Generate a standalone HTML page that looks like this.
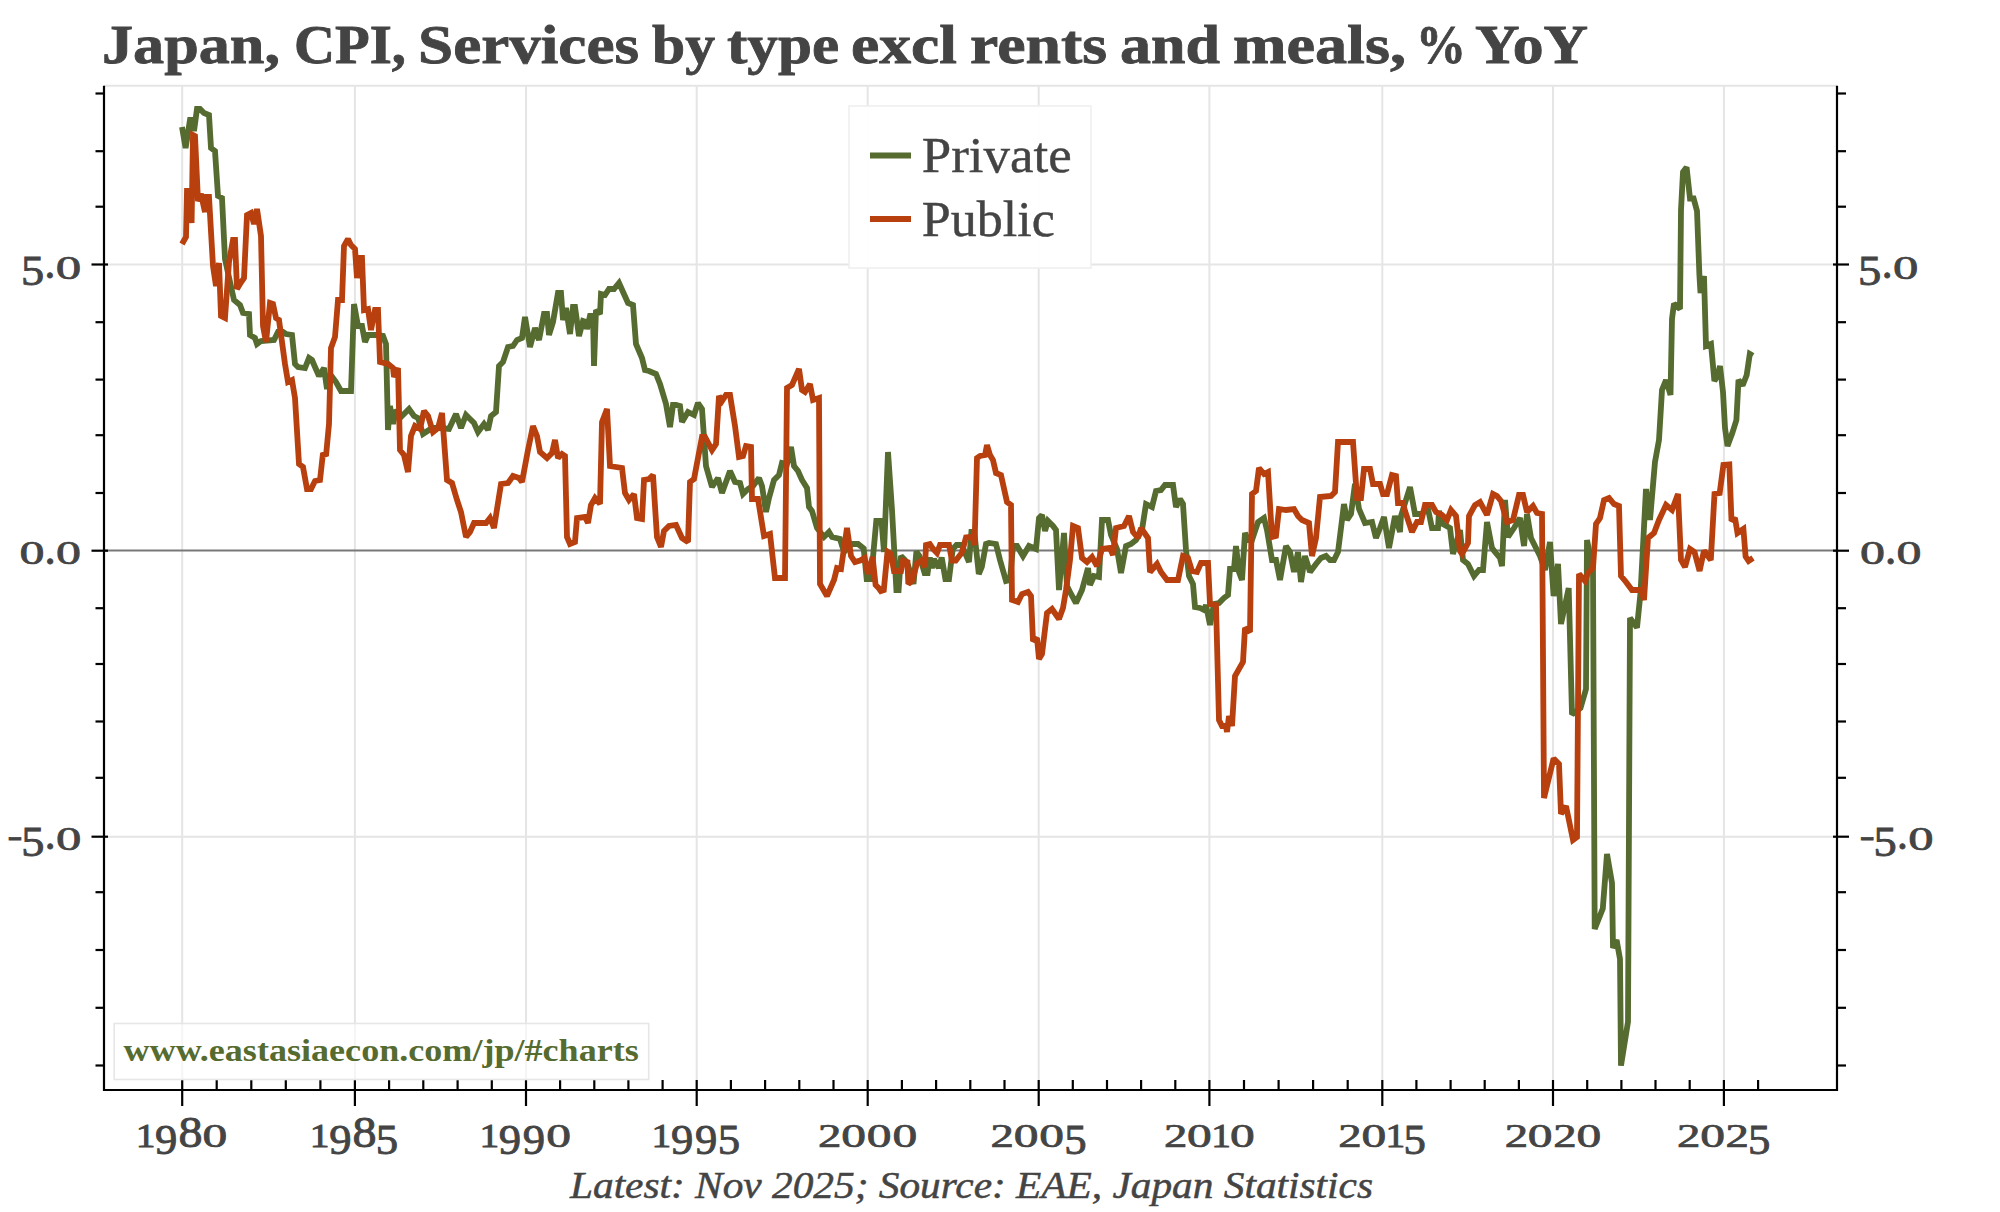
<!DOCTYPE html><html><head><meta charset="utf-8"><style>html,body{margin:0;padding:0;background:#fff;width:2000px;height:1212px;overflow:hidden}svg{display:block}text{font-family:"Liberation Serif",serif}</style></head><body>
<svg width="2000" height="1212" viewBox="0 0 2000 1212">
<rect width="2000" height="1212" fill="#fff"/>
<g stroke="#e5e5e5" stroke-width="2" fill="none">
<line x1="182.2" y1="85.8" x2="182.2" y2="1090"/>
<line x1="354.9" y1="85.8" x2="354.9" y2="1090"/>
<line x1="526.0" y1="85.8" x2="526.0" y2="1090"/>
<line x1="696.7" y1="85.8" x2="696.7" y2="1090"/>
<line x1="867.7" y1="85.8" x2="867.7" y2="1090"/>
<line x1="1038.7" y1="85.8" x2="1038.7" y2="1090"/>
<line x1="1209.4" y1="85.8" x2="1209.4" y2="1090"/>
<line x1="1382.3" y1="85.8" x2="1382.3" y2="1090"/>
<line x1="1553.0" y1="85.8" x2="1553.0" y2="1090"/>
<line x1="1723.9" y1="85.8" x2="1723.9" y2="1090"/>
<line x1="104" y1="264.5" x2="1837" y2="264.5"/>
<line x1="104" y1="836.7" x2="1837" y2="836.7"/>
<line x1="104" y1="85.8" x2="1837" y2="85.8"/>
</g>
<line x1="104" y1="550.4" x2="1837" y2="550.4" stroke="#787878" stroke-width="2"/>
<polyline points="182.0,127.0 185.6,148.0 190.0,120.0 193.0,120.0 194.0,131.0 197.0,109.0 200.0,109.0 204.0,113.0 209.0,115.0 211.0,148.0 215.0,151.0 218.0,196.0 222.0,198.0 225.0,259.0 234.0,300.0 240.0,305.0 243.0,313.0 249.0,314.0 250.0,335.0 255.0,338.0 257.0,344.0 261.0,341.0 274.0,340.0 278.0,332.0 283.0,332.0 286.0,334.0 292.0,335.0 295.0,364.0 298.0,367.0 305.0,368.0 309.0,358.0 312.0,360.0 315.0,367.0 319.0,376.0 324.0,368.0 327.0,389.0 330.0,374.0 336.0,382.0 341.0,391.0 351.0,391.0 354.0,304.0 358.0,326.0 362.0,326.0 365.0,342.0 368.0,335.0 376.0,335.0 383.0,336.0 386.0,344.0 388.0,430.0 390.0,406.0 393.0,424.0 396.0,410.0 402.0,416.0 409.0,409.0 414.0,416.0 418.0,418.0 423.0,434.0 432.0,428.0 439.0,428.0 449.0,429.0 456.0,414.0 461.0,428.0 466.0,415.0 470.0,419.0 474.0,423.0 478.0,432.0 484.0,424.0 488.0,430.0 491.0,416.0 496.0,412.0 499.0,366.0 503.0,362.0 508.0,347.0 513.0,346.0 517.0,340.0 522.0,338.0 525.0,317.0 530.0,347.0 535.0,328.0 539.0,340.0 544.0,314.0 547.0,314.0 549.0,335.0 553.0,322.0 558.0,293.0 561.0,293.0 563.0,320.0 566.0,308.0 570.0,334.0 573.0,307.0 575.0,307.0 579.0,336.0 583.0,321.0 586.0,322.0 587.0,329.0 590.0,316.0 593.0,316.0 594.0,366.0 596.0,310.0 600.0,314.0 601.0,294.0 605.0,295.0 609.0,289.0 614.0,289.0 619.0,283.0 628.0,303.0 633.0,305.0 636.0,344.0 642.0,358.0 645.0,370.0 649.0,371.0 656.0,374.0 660.0,384.0 666.0,404.0 670.0,427.0 673.0,405.0 676.0,405.0 680.0,406.0 682.0,422.0 688.0,412.0 694.0,415.0 698.0,403.0 702.0,409.0 706.0,466.0 712.0,487.0 718.0,478.0 722.0,493.0 730.0,471.0 735.0,482.0 740.0,483.0 743.0,494.0 748.0,489.0 753.0,486.0 759.0,478.0 762.0,486.0 766.0,512.0 769.0,498.0 774.0,480.0 779.0,475.0 782.0,463.0 787.0,464.0 791.0,447.0 794.0,466.0 798.0,471.0 802.0,480.0 807.0,488.0 809.0,507.0 812.0,511.0 817.0,528.0 824.0,537.0 829.0,532.0 832.0,537.0 840.0,539.0 844.0,552.0 852.0,544.0 858.0,544.0 863.7,548.6 866.7,579.0 871.0,579.0 876.3,521.0 881.5,521.0 884.0,552.0 888.0,452.0 892.0,510.0 896.4,590.0 898.6,590.0 901.0,556.0 905.0,560.0 908.0,565.0 913.5,584.0 916.4,551.6 919.4,556.0 924.6,573.0 927.6,573.0 929.8,557.5 932.0,568.0 934.0,559.0 938.7,568.0 941.7,557.5 945.4,579.0 949.0,579.0 952.8,549.0 956.5,545.0 961.7,545.0 969.0,562.0 971.4,532.0 974.3,532.0 978.8,574.0 981.8,567.0 986.0,544.0 989.0,543.0 996.0,544.0 1000.0,560.0 1006.0,581.0 1010.0,580.0 1013.0,546.0 1017.0,546.0 1023.0,556.0 1029.0,546.0 1036.0,549.0 1039.0,518.0 1042.0,515.0 1045.0,531.0 1048.0,521.0 1053.0,526.0 1056.0,530.0 1059.0,590.0 1064.0,533.0 1067.0,586.0 1071.0,594.0 1076.0,603.0 1082.0,590.0 1088.0,568.0 1090.0,585.0 1094.0,576.0 1099.0,577.0 1102.0,520.0 1108.0,520.0 1111.0,535.0 1117.0,549.0 1121.0,573.0 1126.0,546.0 1131.0,544.0 1136.0,540.0 1142.0,530.0 1146.0,504.0 1152.0,507.0 1156.0,491.0 1161.0,490.0 1165.0,485.0 1173.0,485.0 1176.0,507.0 1180.0,499.0 1183.0,504.0 1186.0,550.0 1189.0,576.0 1193.0,584.0 1195.0,607.0 1200.0,608.0 1204.0,610.0 1206.0,605.0 1210.0,625.0 1214.0,604.0 1219.0,603.0 1224.0,598.0 1228.0,595.0 1230.0,569.0 1234.0,569.0 1236.0,546.0 1239.0,572.0 1242.0,580.0 1245.0,533.0 1248.0,540.0 1252.0,540.0 1258.0,522.0 1264.0,518.0 1267.0,530.0 1272.0,560.0 1276.0,560.0 1280.0,580.0 1286.0,546.0 1290.0,552.0 1294.0,572.0 1298.0,552.0 1301.0,582.0 1305.0,556.0 1310.0,572.0 1316.0,564.0 1321.0,558.0 1326.0,556.0 1330.0,560.0 1334.0,560.0 1338.0,552.0 1344.0,504.0 1347.0,520.0 1351.0,514.0 1355.0,484.0 1359.0,509.0 1365.0,523.0 1372.0,522.0 1376.0,538.0 1380.0,528.0 1384.0,517.0 1389.0,548.0 1395.0,516.0 1400.0,532.0 1401.0,516.0 1410.0,487.0 1415.0,514.0 1421.0,514.0 1428.0,509.0 1432.0,528.0 1438.0,528.0 1439.0,511.0 1443.0,524.0 1450.0,528.0 1453.0,554.0 1460.0,530.0 1463.0,560.0 1468.0,564.0 1474.0,576.0 1479.0,570.0 1483.0,570.0 1487.0,522.0 1492.0,548.0 1495.0,552.0 1500.0,558.0 1502.0,566.0 1505.0,500.0 1508.0,537.0 1514.0,528.0 1520.0,518.0 1524.0,546.0 1527.0,514.0 1531.0,538.0 1538.0,552.0 1540.0,556.0 1545.0,570.0 1550.0,542.0 1553.6,596.0 1558.0,564.0 1561.0,624.0 1568.7,588.0 1572.0,714.5 1580.5,708.0 1586.0,689.0 1587.0,540.0 1593.0,570.0 1594.7,929.0 1602.8,908.5 1607.0,854.0 1612.0,883.0 1613.0,948.0 1616.6,940.0 1620.0,959.0 1621.0,1065.6 1628.0,1021.7 1630.0,618.0 1637.0,627.6 1640.6,592.0 1646.0,489.0 1650.0,520.0 1655.0,462.0 1659.0,440.0 1662.0,390.0 1666.0,380.0 1670.5,395.0 1672.0,319.0 1674.0,303.6 1680.0,309.0 1681.0,210.0 1683.0,172.0 1686.6,167.3 1690.0,198.5 1693.6,198.5 1697.0,211.0 1699.4,274.8 1700.5,293.0 1704.0,276.0 1706.0,346.0 1711.0,344.0 1714.4,381.0 1718.0,375.0 1720.0,366.0 1723.0,392.0 1725.0,428.0 1727.5,446.0 1732.3,433.0 1736.4,420.0 1738.5,380.0 1742.6,385.5 1746.7,375.0 1749.8,354.0 1752.9,355.8" fill="none" stroke="#556b2f" stroke-width="5.8" stroke-linejoin="miter" stroke-miterlimit="2"/>
<polyline points="182.0,244.0 186.0,237.0 187.0,191.0 190.0,191.0 191.6,223.0 193.0,135.0 195.0,136.0 198.0,201.0 201.0,194.0 205.0,212.0 206.0,197.0 209.0,197.0 213.0,266.0 216.0,286.0 219.0,263.0 221.0,316.0 225.0,318.0 229.0,262.0 233.0,240.0 235.0,240.0 237.0,289.0 240.0,284.0 244.0,278.0 247.0,215.0 251.0,213.0 254.0,224.0 257.0,209.0 261.0,236.0 263.0,326.0 266.0,342.0 270.0,303.0 273.0,304.0 276.0,318.0 279.0,320.0 285.0,364.0 288.0,382.0 292.0,380.0 295.0,398.0 299.0,464.0 303.0,467.0 307.0,489.0 311.0,489.0 315.0,481.0 320.0,480.0 323.0,453.0 326.0,456.0 329.0,424.0 331.0,348.0 335.0,337.0 338.0,300.0 342.0,300.0 344.0,246.0 348.0,239.0 351.0,245.0 355.0,249.0 357.0,278.0 360.0,258.0 362.0,258.0 364.0,310.0 368.0,309.0 371.0,330.0 375.0,310.0 378.0,310.0 380.0,362.0 388.0,364.0 393.0,368.0 394.0,377.0 398.0,368.0 400.0,450.0 404.0,455.0 408.0,472.0 411.0,436.0 415.0,426.0 420.0,429.0 424.0,411.0 428.0,416.0 433.0,432.0 438.0,428.0 442.0,413.0 447.0,480.0 452.0,483.0 457.0,500.0 461.0,512.0 466.0,537.0 470.0,532.0 474.0,523.0 486.0,523.0 490.0,518.0 494.0,528.0 501.0,484.0 508.0,483.0 513.0,476.0 519.0,478.0 522.0,482.0 528.0,450.0 533.0,426.0 537.0,436.0 540.0,452.0 547.0,458.0 552.0,453.0 555.0,440.0 558.0,458.0 562.0,454.0 565.0,456.0 567.0,537.0 570.0,544.0 575.0,542.0 577.0,518.0 585.0,517.0 588.0,523.0 591.0,505.0 595.0,498.0 600.0,504.0 602.0,422.0 607.0,409.0 610.0,466.0 622.0,468.0 625.0,493.0 629.0,500.0 634.0,494.0 637.0,518.0 642.0,519.0 644.0,480.0 649.0,479.0 653.0,475.0 657.0,537.0 661.0,547.0 664.0,531.0 669.0,526.0 676.0,525.0 682.0,538.0 688.0,542.0 690.0,482.0 694.0,479.0 702.0,437.0 705.0,437.0 712.0,450.0 716.0,444.0 719.0,396.0 722.0,401.0 726.0,395.0 730.0,395.0 735.0,426.0 739.0,457.0 743.0,456.0 746.0,446.0 751.0,447.0 752.0,499.0 758.0,499.0 764.0,536.0 770.0,534.0 775.0,578.0 785.0,578.0 787.0,388.0 792.0,385.0 799.0,369.0 802.0,390.0 805.0,392.0 810.0,384.0 813.0,400.0 819.0,398.0 820.0,584.0 827.0,596.0 834.0,580.0 837.0,568.0 841.0,569.0 847.0,528.0 851.0,556.0 855.0,562.0 860.0,560.5 864.5,558.0 868.0,574.0 872.6,557.0 875.6,585.0 878.6,588.0 880.8,591.0 883.8,590.0 887.5,551.6 891.0,554.0 894.0,571.0 901.0,571.0 903.0,560.5 907.5,562.0 908.3,584.0 912.0,581.0 917.0,563.5 921.6,560.5 925.0,567.0 926.0,545.0 929.8,544.0 932.8,548.6 937.0,553.0 940.0,545.0 949.0,545.0 952.0,560.5 955.8,560.5 958.7,556.8 961.7,553.0 966.0,537.5 972.5,536.7 974.5,545.0 977.0,458.0 980.0,456.0 985.0,455.0 987.0,445.0 990.0,455.0 993.0,460.0 996.0,473.0 1001.0,475.0 1007.0,502.0 1011.0,505.0 1012.0,600.0 1018.0,602.0 1022.0,594.0 1028.0,592.0 1031.0,596.0 1033.0,641.0 1037.0,638.0 1039.0,659.0 1042.0,654.0 1047.0,613.0 1052.0,609.0 1059.0,619.0 1063.0,608.0 1066.0,590.0 1070.0,560.0 1073.0,526.0 1078.0,528.0 1082.0,558.0 1087.0,562.0 1092.0,557.0 1097.0,566.0 1102.0,549.0 1110.0,548.0 1113.0,555.0 1116.0,528.0 1124.0,526.0 1129.0,516.0 1133.0,532.0 1138.0,538.0 1141.0,528.0 1148.0,538.0 1150.0,572.0 1157.0,564.0 1161.0,572.0 1167.0,580.0 1178.0,580.0 1183.0,556.0 1188.0,558.0 1192.0,571.0 1197.0,572.0 1201.0,563.0 1208.0,563.0 1210.0,604.0 1216.0,605.0 1219.0,720.0 1222.0,726.0 1226.0,726.0 1227.0,732.0 1229.0,716.0 1232.0,726.0 1235.0,676.0 1243.0,662.0 1245.0,628.0 1250.0,632.0 1252.0,494.0 1256.0,491.0 1259.0,468.0 1264.0,474.0 1268.0,472.0 1272.0,537.0 1276.0,536.0 1279.0,509.0 1286.0,510.0 1294.0,509.0 1298.0,516.0 1302.0,520.0 1309.0,523.0 1312.0,556.0 1316.0,538.0 1320.0,497.0 1331.0,496.0 1335.0,492.0 1338.0,442.0 1350.0,442.0 1353.0,442.0 1357.0,498.0 1361.0,498.0 1364.0,469.0 1370.0,469.0 1373.0,484.0 1380.0,484.0 1383.0,494.0 1387.0,494.0 1392.0,475.0 1396.0,476.0 1398.0,503.0 1403.0,503.0 1405.0,511.0 1412.0,532.0 1417.0,522.0 1421.0,522.0 1425.0,505.0 1432.0,505.0 1436.0,512.0 1442.0,515.0 1447.0,520.0 1451.0,510.0 1456.0,516.0 1460.0,551.0 1462.0,554.0 1468.0,543.0 1469.0,516.0 1475.0,505.0 1480.0,502.0 1487.0,515.0 1493.0,494.0 1497.0,496.0 1501.0,501.0 1507.0,522.0 1513.0,520.0 1519.0,495.0 1523.0,495.0 1527.0,512.0 1533.0,506.0 1537.0,513.0 1542.0,514.0 1544.0,798.0 1553.6,758.5 1559.0,764.0 1561.0,814.0 1566.0,806.0 1573.0,840.0 1577.0,837.0 1579.0,574.0 1585.0,581.0 1588.0,573.0 1593.0,568.0 1596.0,524.0 1600.0,518.0 1604.0,500.0 1609.0,498.0 1614.0,504.0 1619.0,506.0 1621.0,576.0 1626.0,582.0 1632.0,590.0 1641.0,590.0 1644.0,600.0 1648.0,538.0 1654.0,533.0 1659.0,520.0 1666.0,505.0 1672.0,510.0 1678.0,494.0 1681.0,560.0 1685.0,567.0 1690.0,549.0 1694.5,552.0 1699.6,571.0 1704.0,550.6 1710.8,560.0 1714.5,494.0 1719.7,493.0 1723.4,465.0 1729.3,464.5 1731.5,521.0 1735.0,518.0 1737.5,533.0 1743.4,529.0 1745.6,556.5 1748.6,561.0 1753.0,558.0" fill="none" stroke="#b7400e" stroke-width="5.8" stroke-linejoin="miter" stroke-miterlimit="2"/>
<g stroke="#000" stroke-width="2.2" fill="none" stroke-linecap="butt">
<polyline points="104,85.8 104,1090 1837,1090 1837,85.8"/>
<line x1="182.2" y1="1080" x2="182.2" y2="1106"/>
<line x1="216.7" y1="1080" x2="216.7" y2="1090"/>
<line x1="251.3" y1="1080" x2="251.3" y2="1090"/>
<line x1="285.8" y1="1080" x2="285.8" y2="1090"/>
<line x1="320.4" y1="1080" x2="320.4" y2="1090"/>
<line x1="354.9" y1="1080" x2="354.9" y2="1106"/>
<line x1="389.1" y1="1080" x2="389.1" y2="1090"/>
<line x1="423.3" y1="1080" x2="423.3" y2="1090"/>
<line x1="457.6" y1="1080" x2="457.6" y2="1090"/>
<line x1="491.8" y1="1080" x2="491.8" y2="1090"/>
<line x1="526.0" y1="1080" x2="526.0" y2="1106"/>
<line x1="560.1" y1="1080" x2="560.1" y2="1090"/>
<line x1="594.3" y1="1080" x2="594.3" y2="1090"/>
<line x1="628.4" y1="1080" x2="628.4" y2="1090"/>
<line x1="662.6" y1="1080" x2="662.6" y2="1090"/>
<line x1="696.7" y1="1080" x2="696.7" y2="1106"/>
<line x1="730.9" y1="1080" x2="730.9" y2="1090"/>
<line x1="765.1" y1="1080" x2="765.1" y2="1090"/>
<line x1="799.3" y1="1080" x2="799.3" y2="1090"/>
<line x1="833.5" y1="1080" x2="833.5" y2="1090"/>
<line x1="867.7" y1="1080" x2="867.7" y2="1106"/>
<line x1="901.9" y1="1080" x2="901.9" y2="1090"/>
<line x1="936.1" y1="1080" x2="936.1" y2="1090"/>
<line x1="970.3" y1="1080" x2="970.3" y2="1090"/>
<line x1="1004.5" y1="1080" x2="1004.5" y2="1090"/>
<line x1="1038.7" y1="1080" x2="1038.7" y2="1106"/>
<line x1="1072.8" y1="1080" x2="1072.8" y2="1090"/>
<line x1="1107.0" y1="1080" x2="1107.0" y2="1090"/>
<line x1="1141.1" y1="1080" x2="1141.1" y2="1090"/>
<line x1="1175.3" y1="1080" x2="1175.3" y2="1090"/>
<line x1="1209.4" y1="1080" x2="1209.4" y2="1106"/>
<line x1="1244.0" y1="1080" x2="1244.0" y2="1090"/>
<line x1="1278.6" y1="1080" x2="1278.6" y2="1090"/>
<line x1="1313.1" y1="1080" x2="1313.1" y2="1090"/>
<line x1="1347.7" y1="1080" x2="1347.7" y2="1090"/>
<line x1="1382.3" y1="1080" x2="1382.3" y2="1106"/>
<line x1="1416.4" y1="1080" x2="1416.4" y2="1090"/>
<line x1="1450.6" y1="1080" x2="1450.6" y2="1090"/>
<line x1="1484.7" y1="1080" x2="1484.7" y2="1090"/>
<line x1="1518.9" y1="1080" x2="1518.9" y2="1090"/>
<line x1="1553.0" y1="1080" x2="1553.0" y2="1106"/>
<line x1="1587.2" y1="1080" x2="1587.2" y2="1090"/>
<line x1="1621.4" y1="1080" x2="1621.4" y2="1090"/>
<line x1="1655.5" y1="1080" x2="1655.5" y2="1090"/>
<line x1="1689.7" y1="1080" x2="1689.7" y2="1090"/>
<line x1="1723.9" y1="1080" x2="1723.9" y2="1106"/>
<line x1="1758.1" y1="1080" x2="1758.1" y2="1090"/>
<line x1="95.5" y1="1065.5" x2="104" y2="1065.5"/>
<line x1="1837" y1="1065.5" x2="1846" y2="1065.5"/>
<line x1="95.5" y1="1007.8" x2="104" y2="1007.8"/>
<line x1="1837" y1="1007.8" x2="1846" y2="1007.8"/>
<line x1="95.5" y1="950.0" x2="104" y2="950.0"/>
<line x1="1837" y1="950.0" x2="1846" y2="950.0"/>
<line x1="95.5" y1="892.2" x2="104" y2="892.2"/>
<line x1="1837" y1="892.2" x2="1846" y2="892.2"/>
<line x1="91.5" y1="836.7" x2="108" y2="836.7"/>
<line x1="1833" y1="836.7" x2="1849" y2="836.7"/>
<line x1="95.5" y1="777.8" x2="104" y2="777.8"/>
<line x1="1837" y1="777.8" x2="1846" y2="777.8"/>
<line x1="95.5" y1="721.5" x2="104" y2="721.5"/>
<line x1="1837" y1="721.5" x2="1846" y2="721.5"/>
<line x1="95.5" y1="664.0" x2="104" y2="664.0"/>
<line x1="1837" y1="664.0" x2="1846" y2="664.0"/>
<line x1="95.5" y1="608.2" x2="104" y2="608.2"/>
<line x1="1837" y1="608.2" x2="1846" y2="608.2"/>
<line x1="91.5" y1="550.7" x2="108" y2="550.7"/>
<line x1="1833" y1="550.7" x2="1849" y2="550.7"/>
<line x1="95.5" y1="493.0" x2="104" y2="493.0"/>
<line x1="1837" y1="493.0" x2="1846" y2="493.0"/>
<line x1="95.5" y1="435.2" x2="104" y2="435.2"/>
<line x1="1837" y1="435.2" x2="1846" y2="435.2"/>
<line x1="95.5" y1="379.6" x2="104" y2="379.6"/>
<line x1="1837" y1="379.6" x2="1846" y2="379.6"/>
<line x1="95.5" y1="322.2" x2="104" y2="322.2"/>
<line x1="1837" y1="322.2" x2="1846" y2="322.2"/>
<line x1="91.5" y1="264.5" x2="108" y2="264.5"/>
<line x1="1833" y1="264.5" x2="1849" y2="264.5"/>
<line x1="95.5" y1="206.7" x2="104" y2="206.7"/>
<line x1="1837" y1="206.7" x2="1846" y2="206.7"/>
<line x1="95.5" y1="151.2" x2="104" y2="151.2"/>
<line x1="1837" y1="151.2" x2="1846" y2="151.2"/>
<line x1="95.5" y1="93.5" x2="104" y2="93.5"/>
<line x1="1837" y1="93.5" x2="1846" y2="93.5"/>
</g>
<rect x="849" y="106" width="242" height="162" fill="#fff" fill-opacity="0.95" stroke="#efefef" stroke-width="1.6"/>
<line x1="870" y1="155.5" x2="911" y2="155.5" stroke="#556b2f" stroke-width="6"/>
<line x1="870" y1="219" x2="911" y2="219" stroke="#b7400e" stroke-width="6"/>
<rect x="114.2" y="1023.5" width="534.5" height="56" fill="#fff" fill-opacity="0.6" stroke="#e6e6e6" stroke-width="1.6"/>
<text x="570.00" y="1198.0" font-size="38" fill="#444444" font-style="italic" stroke="#444" stroke-width="0.5" textLength="803.00" lengthAdjust="spacingAndGlyphs">Latest: Nov 2025; Source: EAE, Japan Statistics</text>
<text x="102.00" y="62.7" font-size="54" fill="#444444" font-weight="bold" stroke="#444" stroke-width="0.8" textLength="178.00" lengthAdjust="spacingAndGlyphs">Japan,</text>
<text x="294.00" y="62.7" font-size="54" fill="#444444" font-weight="bold" stroke="#444" stroke-width="0.8" textLength="112.00" lengthAdjust="spacingAndGlyphs">CPI,</text>
<text x="418.00" y="62.7" font-size="54" fill="#444444" font-weight="bold" stroke="#444" stroke-width="0.8" textLength="221.00" lengthAdjust="spacingAndGlyphs">Services</text>
<text x="652.00" y="62.7" font-size="54" fill="#444444" font-weight="bold" stroke="#444" stroke-width="0.8" textLength="63.00" lengthAdjust="spacingAndGlyphs">by</text>
<text x="727.00" y="62.7" font-size="54" fill="#444444" font-weight="bold" stroke="#444" stroke-width="0.8" textLength="112.00" lengthAdjust="spacingAndGlyphs">type</text>
<text x="851.00" y="62.7" font-size="54" fill="#444444" font-weight="bold" stroke="#444" stroke-width="0.8" textLength="106.00" lengthAdjust="spacingAndGlyphs">excl</text>
<text x="970.00" y="62.7" font-size="54" fill="#444444" font-weight="bold" stroke="#444" stroke-width="0.8" textLength="137.00" lengthAdjust="spacingAndGlyphs">rents</text>
<text x="1120.00" y="62.7" font-size="54" fill="#444444" font-weight="bold" stroke="#444" stroke-width="0.8" textLength="100.00" lengthAdjust="spacingAndGlyphs">and</text>
<text x="1233.00" y="62.7" font-size="54" fill="#444444" font-weight="bold" stroke="#444" stroke-width="0.8" textLength="173.00" lengthAdjust="spacingAndGlyphs">meals,</text>
<text x="1416.00" y="62.7" font-size="54" fill="#444444" font-weight="bold" stroke="#444" stroke-width="0.8" textLength="50.00" lengthAdjust="spacingAndGlyphs">%</text>
<text x="1475.00" y="62.7" font-size="54" fill="#444444" font-weight="bold" stroke="#444" stroke-width="0.8" textLength="113.00" lengthAdjust="spacingAndGlyphs">YoY</text>
<text x="921.70" y="171.5" font-size="50" fill="#444444" stroke="#444" stroke-width="0.4" textLength="150.00" lengthAdjust="spacingAndGlyphs">Private</text>
<text x="921.70" y="235.9" font-size="50" fill="#444444" stroke="#444" stroke-width="0.4" textLength="133.10" lengthAdjust="spacingAndGlyphs">Public</text>
<text x="123.60" y="1060.9" font-size="31" fill="#556b2f" font-weight="bold" textLength="515.20" lengthAdjust="spacingAndGlyphs">www.eastasiaecon.com/jp/#charts</text>
<text transform="matrix(0.3943 0 0 0.3389 135.65 1147.35)" font-size="100" fill="#444444" stroke="#444444" stroke-width="0.9" vector-effect="non-scaling-stroke" >1</text>
<text transform="matrix(0.4465 0 0 0.4284 155.06 1153.67)" font-size="100" fill="#444444" stroke="#444444" stroke-width="0.9" vector-effect="non-scaling-stroke" >9</text>
<text transform="matrix(0.4810 0 0 0.4326 178.48 1146.92)" font-size="100" fill="#444444" stroke="#444444" stroke-width="0.9" vector-effect="non-scaling-stroke" >8</text>
<text transform="matrix(0.4952 0 0 0.3289 202.42 1147.02)" font-size="100" fill="#444444" stroke="#444444" stroke-width="0.9" vector-effect="non-scaling-stroke" >0</text>
<text transform="matrix(0.3943 0 0 0.3389 309.78 1147.35)" font-size="100" fill="#444444" stroke="#444444" stroke-width="0.9" vector-effect="non-scaling-stroke" >1</text>
<text transform="matrix(0.4465 0 0 0.4284 329.19 1153.67)" font-size="100" fill="#444444" stroke="#444444" stroke-width="0.9" vector-effect="non-scaling-stroke" >9</text>
<text transform="matrix(0.4810 0 0 0.4326 352.60 1146.92)" font-size="100" fill="#444444" stroke="#444444" stroke-width="0.9" vector-effect="non-scaling-stroke" >8</text>
<text transform="matrix(0.4488 0 0 0.4316 375.83 1153.67)" font-size="100" fill="#444444" stroke="#444444" stroke-width="0.9" vector-effect="non-scaling-stroke" >5</text>
<text transform="matrix(0.3943 0 0 0.3389 479.45 1147.35)" font-size="100" fill="#444444" stroke="#444444" stroke-width="0.9" vector-effect="non-scaling-stroke" >1</text>
<text transform="matrix(0.4465 0 0 0.4284 498.86 1153.67)" font-size="100" fill="#444444" stroke="#444444" stroke-width="0.9" vector-effect="non-scaling-stroke" >9</text>
<text transform="matrix(0.4465 0 0 0.4284 522.86 1153.67)" font-size="100" fill="#444444" stroke="#444444" stroke-width="0.9" vector-effect="non-scaling-stroke" >9</text>
<text transform="matrix(0.4952 0 0 0.3289 546.22 1147.02)" font-size="100" fill="#444444" stroke="#444444" stroke-width="0.9" vector-effect="non-scaling-stroke" >0</text>
<text transform="matrix(0.3943 0 0 0.3389 651.58 1147.35)" font-size="100" fill="#444444" stroke="#444444" stroke-width="0.9" vector-effect="non-scaling-stroke" >1</text>
<text transform="matrix(0.4465 0 0 0.4284 670.99 1153.67)" font-size="100" fill="#444444" stroke="#444444" stroke-width="0.9" vector-effect="non-scaling-stroke" >9</text>
<text transform="matrix(0.4465 0 0 0.4284 694.99 1153.67)" font-size="100" fill="#444444" stroke="#444444" stroke-width="0.9" vector-effect="non-scaling-stroke" >9</text>
<text transform="matrix(0.4488 0 0 0.4316 717.63 1153.67)" font-size="100" fill="#444444" stroke="#444444" stroke-width="0.9" vector-effect="non-scaling-stroke" >5</text>
<text transform="matrix(0.4675 0 0 0.3364 818.10 1147.35)" font-size="100" fill="#444444" stroke="#444444" stroke-width="0.9" vector-effect="non-scaling-stroke" >2</text>
<text transform="matrix(0.4952 0 0 0.3289 841.22 1147.02)" font-size="100" fill="#444444" stroke="#444444" stroke-width="0.9" vector-effect="non-scaling-stroke" >0</text>
<text transform="matrix(0.4952 0 0 0.3289 866.82 1147.02)" font-size="100" fill="#444444" stroke="#444444" stroke-width="0.9" vector-effect="non-scaling-stroke" >0</text>
<text transform="matrix(0.4952 0 0 0.3289 892.42 1147.02)" font-size="100" fill="#444444" stroke="#444444" stroke-width="0.9" vector-effect="non-scaling-stroke" >0</text>
<text transform="matrix(0.4675 0 0 0.3364 990.52 1147.35)" font-size="100" fill="#444444" stroke="#444444" stroke-width="0.9" vector-effect="non-scaling-stroke" >2</text>
<text transform="matrix(0.4952 0 0 0.3289 1013.64 1147.02)" font-size="100" fill="#444444" stroke="#444444" stroke-width="0.9" vector-effect="non-scaling-stroke" >0</text>
<text transform="matrix(0.4952 0 0 0.3289 1039.24 1147.02)" font-size="100" fill="#444444" stroke="#444444" stroke-width="0.9" vector-effect="non-scaling-stroke" >0</text>
<text transform="matrix(0.4487 0 0 0.4316 1064.13 1153.67)" font-size="100" fill="#444444" stroke="#444444" stroke-width="0.9" vector-effect="non-scaling-stroke" >5</text>
<text transform="matrix(0.4675 0 0 0.3364 1164.00 1147.35)" font-size="100" fill="#444444" stroke="#444444" stroke-width="0.9" vector-effect="non-scaling-stroke" >2</text>
<text transform="matrix(0.4952 0 0 0.3289 1187.12 1147.02)" font-size="100" fill="#444444" stroke="#444444" stroke-width="0.9" vector-effect="non-scaling-stroke" >0</text>
<text transform="matrix(0.3943 0 0 0.3389 1211.15 1147.35)" font-size="100" fill="#444444" stroke="#444444" stroke-width="0.9" vector-effect="non-scaling-stroke" >1</text>
<text transform="matrix(0.4952 0 0 0.3289 1229.92 1147.02)" font-size="100" fill="#444444" stroke="#444444" stroke-width="0.9" vector-effect="non-scaling-stroke" >0</text>
<text transform="matrix(0.4675 0 0 0.3364 1338.32 1147.35)" font-size="100" fill="#444444" stroke="#444444" stroke-width="0.9" vector-effect="non-scaling-stroke" >2</text>
<text transform="matrix(0.4952 0 0 0.3289 1361.44 1147.02)" font-size="100" fill="#444444" stroke="#444444" stroke-width="0.9" vector-effect="non-scaling-stroke" >0</text>
<text transform="matrix(0.3943 0 0 0.3389 1385.48 1147.35)" font-size="100" fill="#444444" stroke="#444444" stroke-width="0.9" vector-effect="non-scaling-stroke" >1</text>
<text transform="matrix(0.4487 0 0 0.4316 1403.53 1153.67)" font-size="100" fill="#444444" stroke="#444444" stroke-width="0.9" vector-effect="non-scaling-stroke" >5</text>
<text transform="matrix(0.4675 0 0 0.3364 1504.70 1147.35)" font-size="100" fill="#444444" stroke="#444444" stroke-width="0.9" vector-effect="non-scaling-stroke" >2</text>
<text transform="matrix(0.4952 0 0 0.3289 1527.82 1147.02)" font-size="100" fill="#444444" stroke="#444444" stroke-width="0.9" vector-effect="non-scaling-stroke" >0</text>
<text transform="matrix(0.4675 0 0 0.3364 1553.30 1147.35)" font-size="100" fill="#444444" stroke="#444444" stroke-width="0.9" vector-effect="non-scaling-stroke" >2</text>
<text transform="matrix(0.4952 0 0 0.3289 1576.42 1147.02)" font-size="100" fill="#444444" stroke="#444444" stroke-width="0.9" vector-effect="non-scaling-stroke" >0</text>
<text transform="matrix(0.4675 0 0 0.3364 1677.02 1147.35)" font-size="100" fill="#444444" stroke="#444444" stroke-width="0.9" vector-effect="non-scaling-stroke" >2</text>
<text transform="matrix(0.4952 0 0 0.3289 1700.14 1147.02)" font-size="100" fill="#444444" stroke="#444444" stroke-width="0.9" vector-effect="non-scaling-stroke" >0</text>
<text transform="matrix(0.4675 0 0 0.3364 1725.62 1147.35)" font-size="100" fill="#444444" stroke="#444444" stroke-width="0.9" vector-effect="non-scaling-stroke" >2</text>
<text transform="matrix(0.4487 0 0 0.4316 1748.03 1153.67)" font-size="100" fill="#444444" stroke="#444444" stroke-width="0.9" vector-effect="non-scaling-stroke" >5</text>
<text transform="matrix(0.4650 0 0 0.4256 21.01 285.27)" font-size="100" fill="#444444" stroke="#444444" stroke-width="0.9" vector-effect="non-scaling-stroke" >5</text>
<text transform="matrix(0.4333 0 0 0.4522 44.48 278.22)" font-size="100" fill="#444444" stroke="#444444" stroke-width="0.9" vector-effect="non-scaling-stroke" >.</text>
<text transform="matrix(0.5095 0 0 0.3348 55.76 278.57)" font-size="100" fill="#444444" stroke="#444444" stroke-width="0.9" vector-effect="non-scaling-stroke" >0</text>
<text transform="matrix(0.4675 0 0 0.4256 1858.10 285.27)" font-size="100" fill="#444444" stroke="#444444" stroke-width="0.9" vector-effect="non-scaling-stroke" >5</text>
<text transform="matrix(0.4333 0 0 0.4522 1881.68 278.22)" font-size="100" fill="#444444" stroke="#444444" stroke-width="0.9" vector-effect="non-scaling-stroke" >.</text>
<text transform="matrix(0.5071 0 0 0.3348 1892.97 278.57)" font-size="100" fill="#444444" stroke="#444444" stroke-width="0.9" vector-effect="non-scaling-stroke" >0</text>
<text transform="matrix(0.5000 0 0 0.3348 19.40 564.07)" font-size="100" fill="#444444" stroke="#444444" stroke-width="0.9" vector-effect="non-scaling-stroke" >0</text>
<text transform="matrix(0.4500 0 0 0.4522 44.47 563.72)" font-size="100" fill="#444444" stroke="#444444" stroke-width="0.9" vector-effect="non-scaling-stroke" >.</text>
<text transform="matrix(0.5000 0 0 0.3348 56.00 564.07)" font-size="100" fill="#444444" stroke="#444444" stroke-width="0.9" vector-effect="non-scaling-stroke" >0</text>
<text transform="matrix(0.5000 0 0 0.3348 1860.00 564.07)" font-size="100" fill="#444444" stroke="#444444" stroke-width="0.9" vector-effect="non-scaling-stroke" >0</text>
<text transform="matrix(0.4500 0 0 0.4522 1885.08 563.72)" font-size="100" fill="#444444" stroke="#444444" stroke-width="0.9" vector-effect="non-scaling-stroke" >.</text>
<text transform="matrix(0.5000 0 0 0.3348 1896.60 564.07)" font-size="100" fill="#444444" stroke="#444444" stroke-width="0.9" vector-effect="non-scaling-stroke" >0</text>
<text transform="matrix(0.4462 0 0 0.3333 7.54 847.07)" font-size="100" fill="#444444" stroke="#444444" stroke-width="0.9" vector-effect="non-scaling-stroke" >-</text>
<text transform="matrix(0.4650 0 0 0.4256 21.21 856.37)" font-size="100" fill="#444444" stroke="#444444" stroke-width="0.9" vector-effect="non-scaling-stroke" >5</text>
<text transform="matrix(0.4333 0 0 0.4522 44.68 849.32)" font-size="100" fill="#444444" stroke="#444444" stroke-width="0.9" vector-effect="non-scaling-stroke" >.</text>
<text transform="matrix(0.5071 0 0 0.3348 55.97 849.67)" font-size="100" fill="#444444" stroke="#444444" stroke-width="0.9" vector-effect="non-scaling-stroke" >0</text>
<text transform="matrix(0.4462 0 0 0.3333 1859.84 847.07)" font-size="100" fill="#444444" stroke="#444444" stroke-width="0.9" vector-effect="non-scaling-stroke" >-</text>
<text transform="matrix(0.4650 0 0 0.4256 1873.51 856.37)" font-size="100" fill="#444444" stroke="#444444" stroke-width="0.9" vector-effect="non-scaling-stroke" >5</text>
<text transform="matrix(0.4333 0 0 0.4522 1896.98 849.32)" font-size="100" fill="#444444" stroke="#444444" stroke-width="0.9" vector-effect="non-scaling-stroke" >.</text>
<text transform="matrix(0.5071 0 0 0.3348 1908.27 849.67)" font-size="100" fill="#444444" stroke="#444444" stroke-width="0.9" vector-effect="non-scaling-stroke" >0</text>
</svg></body></html>
